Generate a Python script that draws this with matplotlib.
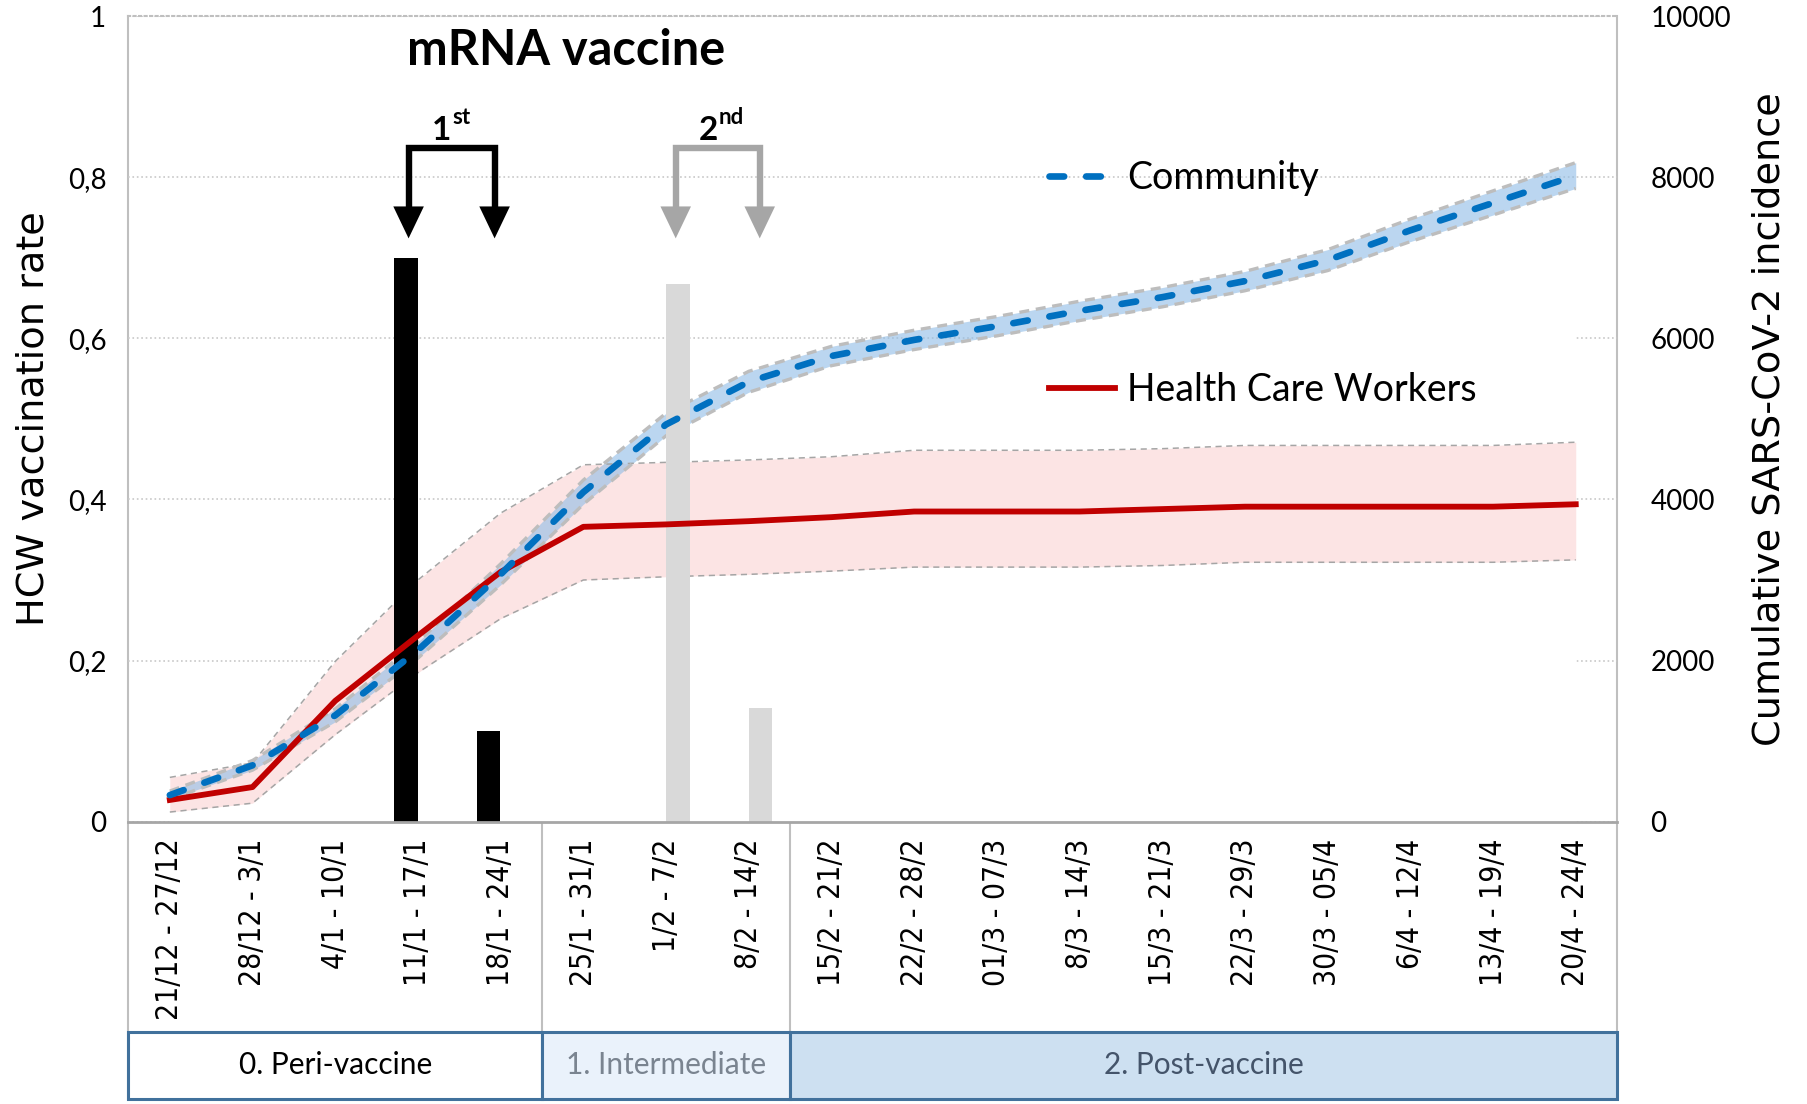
import matplotlib
matplotlib.use('Agg')
import matplotlib.pyplot as plt
from matplotlib.patches import Rectangle
import numpy as np

# weekly categories
weeks = ['21/12 - 27/12', '28/12 - 3/1', '4/1 - 10/1', '11/1 - 17/1', '18/1 - 24/1',
         '25/1 - 31/1', '1/2 - 7/2', '8/2 - 14/2', '15/2 - 21/2', '22/2 - 28/2',
         '01/3 - 07/3', '8/3 - 14/3', '15/3 - 21/3', '22/3 - 29/3', '30/3 - 05/4',
         '6/4 - 12/4', '13/4 - 19/4', '20/4 - 24/4']

# HCW vaccination rate (left axis) with band
hcw = [0.027, 0.043, 0.150, 0.231, 0.310, 0.366, 0.369, 0.373, 0.378,
       0.385, 0.385, 0.385, 0.388, 0.391, 0.391, 0.391, 0.391, 0.394]
hcw_hi = [0.055, 0.073, 0.199, 0.300, 0.383, 0.443, 0.446, 0.449, 0.453,
          0.461, 0.461, 0.461, 0.463, 0.467, 0.467, 0.467, 0.467, 0.471]
hcw_lo = [0.012, 0.023, 0.108, 0.185, 0.252, 0.300, 0.304, 0.307, 0.311,
          0.316, 0.316, 0.316, 0.318, 0.322, 0.322, 0.322, 0.322, 0.325]

# community cumulative incidence (right axis) with band
community = [330, 700, 1320, 2130, 3070, 4090, 4930, 5460, 5780,
             5980, 6150, 6340, 6510, 6710, 6970, 7340, 7680, 8020]
community_hi = [380, 760, 1400, 2230, 3200, 4240, 5070, 5590, 5900,
                6100, 6270, 6460, 6630, 6830, 7100, 7480, 7830, 8180]
community_lo = [280, 640, 1240, 2030, 2940, 3940, 4790, 5330, 5660,
                5860, 6030, 6220, 6390, 6590, 6840, 7200, 7530, 7860]

# dose bars (left axis)
dose1 = [0, 0, 0, 0.700, 0.113, 0, 0, 0, 0, 0, 0, 0, 0, 0, 0, 0, 0, 0]
dose2 = [0, 0, 0, 0, 0, 0, 0.668, 0.141, 0, 0, 0, 0, 0, 0, 0, 0, 0, 0]

phase_names = ['0. Peri-vaccine', '1. Intermediate', '2. Post-vaccine']
phase_weeks = [5, 3, 10]
phase_fill = ['white', '#EAF2FB', '#CDE0F1']
phase_text = ['black', '#7A8490', '#44546A']

LATO = ['Lato', 'DejaVu Sans']
VERD = ['DejaVu Sans']

x = np.arange(len(weeks))

fig = plt.figure(figsize=(18.07, 11.04), dpi=100)
ax = fig.add_axes([0.0711, 0.2557, 0.8238, 0.7298])
ax2 = ax.twinx()
ax.set_xlim(-0.5, len(weeks) - 0.5)
ax.set_ylim(0, 1)
ax2.set_ylim(0, 10000)

# grid
ax.set_yticks([0, 0.2, 0.4, 0.6, 0.8, 1.0])
ax.set_yticklabels(['0', '0,2', '0,4', '0,6', '0,8', '1'], family=LATO, fontsize=20)
ax.yaxis.grid(True, linestyle=':', color='#C8C8C8', linewidth=1.2, zorder=0)
ax.set_axisbelow(True)
ax2.set_yticks(np.arange(0, 10001, 2000))
ax2.set_yticklabels([str(v) for v in range(0, 10001, 2000)], family=LATO, fontsize=20)

c2 = ax2.transData
# opaque white under the bands (hides the grid like in the original)
ax.fill_between(x, 0, hcw_lo, color='white', lw=0, zorder=1)
ax.fill_between(x, 0, community_lo, color='white', lw=0, zorder=1, transform=c2)
ax.fill_between(x, hcw_lo, hcw_hi, color='#FCE4E4', lw=0, zorder=1.5)
ax.fill_between(x, community_lo, community_hi, color='#8FBCE6', alpha=0.6, lw=0,
                zorder=1.6, transform=c2)
ax.plot(x, hcw_hi, color='#A5A5A5', ls=(0, (4, 3)), lw=1.1, zorder=1.7)
ax.plot(x, hcw_lo, color='#A5A5A5', ls=(0, (4, 3)), lw=1.1, zorder=1.7)
ax.plot(x, community_hi, color='#BDBDBD', ls=(0, (3, 2)), lw=2.4, zorder=1.7, transform=c2)
ax.plot(x, community_lo, color='#BDBDBD', ls=(0, (3, 2)), lw=2.4, zorder=1.7, transform=c2)

# bars
bw = 0.28
ax.bar(x - 0.145, dose1, width=bw, color='black', zorder=2)
ax.bar(x + 0.145, dose2, width=bw, color='#D9D9D9', zorder=2)

# lines
red_line, = ax.plot(x, hcw, color='#C00000', lw=4.2, zorder=3, solid_joinstyle='round')
blue_line, = ax.plot(x, community, color='#0070C0', lw=4.8, zorder=3.2,
                     dashes=(2.2, 3.3), dash_capstyle='round', transform=c2)

# title
ax.text(4.79, 0.957, 'mRNA vaccine', ha='center', va='center', fontsize=35,
        fontweight='bold', family=LATO, zorder=5)

# dose brackets
brackets = [((2.887, 3.927), '#000000', '1', 'st'),
            ((6.117, 7.133), '#A6A6A6', '2', 'nd')]
for (xl, xr), col, num, sup in brackets:
    ax.plot([xl, xl, xr, xr], [0.762, 0.836, 0.836, 0.762], color=col, lw=4.6,
            solid_joinstyle='miter', solid_capstyle='butt', zorder=4)
    for xx in (xl, xr):
        ax.annotate('', xy=(xx, 0.724), xytext=(xx, 0.80),
                    arrowprops=dict(arrowstyle='-|>,head_length=1.15,head_width=0.55',
                                    fc=col, ec=col, lw=0, shrinkA=0, shrinkB=0,
                                    mutation_scale=20), zorder=4)
    xm = (xl + xr) / 2
    ax.text(xm, 0.846, num, ha='right', va='baseline', fontsize=24, fontweight='bold',
            family=LATO, zorder=5)
    ax.text(xm + 0.01, 0.866, sup, ha='left', va='baseline', fontsize=16, fontweight='bold',
            family=LATO, zorder=5)

# legend
leg = ax.legend([blue_line, red_line], ['Community', 'Health Care Workers'],
                loc='upper left', bbox_to_anchor=(0.6185, 0.821), frameon=False,
                prop={'family': LATO, 'size': 27}, labelspacing=4.68,
                handlelength=1.75, handletextpad=0.33, borderpad=0, borderaxespad=0)
leg.set_zorder(6)

# x axis
ax.set_xticks(x)
ax.set_xticklabels(weeks, rotation=90, family=VERD, fontsize=21.5, fontstretch='condensed')
ax.tick_params(axis='x', length=0, pad=12)
ax.tick_params(axis='y', length=0, pad=16)
ax2.tick_params(axis='y', length=0, pad=24)

# spines
for a in (ax, ax2):
    for s in a.spines.values():
        s.set_visible(False)
ax.spines['bottom'].set_visible(True)
ax.spines['bottom'].set_color('#A6A6A6')
ax.spines['bottom'].set_linewidth(2)
ax.spines['bottom'].set_zorder(4)
ax.spines['top'].set_visible(True)
ax.spines['top'].set_color('#BFBFBF')
ax.spines['top'].set_linestyle(':')
ax.spines['top'].set_linewidth(1.5)

# labels
ax.set_ylabel('HCW vaccination rate', family=VERD, fontsize=27.5)
ax.yaxis.set_label_coords(-0.0517, 0.5)
ax2.set_ylabel('Cumulative SARS-CoV-2 incidence', family=VERD, fontsize=27.5)
ax2.yaxis.set_label_coords(1.0905, 0.5)

# category area borders and phase boxes
box_top, box_h = -0.2605, 0.0832
xt = ax.get_xaxis_transform()
edges = np.concatenate([[-0.5], -0.5 + np.cumsum(phase_weeks)])
for e in edges:
    outer = e in (edges[0], edges[-1])
    ax.plot([e, e], [1 if outer else 0, -0.3437 if outer else box_top], color='#BFBFBF',
            lw=1.5, transform=xt, clip_on=False, zorder=0.5)
for i, name in enumerate(phase_names):
    x0, x1 = edges[i], edges[i + 1]
    ax.add_patch(Rectangle((x0, box_top - box_h), x1 - x0, box_h, transform=xt,
                           facecolor=phase_fill[i], edgecolor='#41719C', lw=2.2,
                           clip_on=False, zorder=3))
    ax.text((x0 + x1) / 2, box_top - box_h / 2, name, transform=xt, ha='center',
            va='center', fontsize=21.5, family=LATO, color=phase_text[i], zorder=4)

fig.savefig('out.png', dpi=100)
